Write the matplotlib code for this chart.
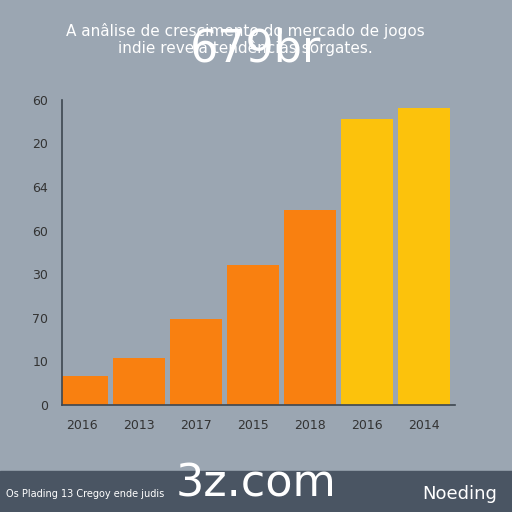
import matplotlib
matplotlib.use("Agg")
import matplotlib.pyplot as plt
import numpy as np

years = ["2016", "2013", "2017", "2015", "2018", "2016", "2014"]
values = [0.67, 1.07, 1.98, 3.21, 4.47, 6.56, 6.81]
bar_colors = ["#f98010"] * 5 + ["#fcc20c"] * 2
tick_labels = ["0", "10", "70", "30", "60", "64", "20", "60"]

BG = "#9ba6b2"

fig = plt.figure(figsize=(5.12, 5.12), dpi=100, facecolor=BG)
ax = fig.add_axes([0.121, 0.209, 0.768, 0.596], facecolor=BG)

x = np.arange(len(years))
ax.bar(x, values, width=0.92, color=bar_colors)
ax.set_xlim(-0.35, 6.55)
ax.set_ylim(0, 7)
ax.set_yticks(range(8))
ax.set_yticklabels(tick_labels)
ax.set_xticks(x)
ax.set_xticklabels(years)
ax.tick_params(colors="#333333", labelsize=9, length=0, pad=10)
for side in ["top", "right"]:
    ax.spines[side].set_visible(False)
for side in ["left", "bottom"]:
    ax.spines[side].set_color("#3d4650")
    ax.spines[side].set_linewidth(1.2)

# title (the watermark sits on top of it, as in the reference)
fig.text(0.48, 0.955, "A anâlise de crescimento do mercado de jogos\nindie revela tendências sorgates.",
         ha="center", va="top", fontsize=11, color="white", linespacing=1.1)
fig.text(0.50, 0.905, "679br", ha="center", va="center", fontsize=32, color="white")

# bottom band
fig.patches.append(plt.Rectangle((0, 0), 1, 0.08, transform=fig.transFigure,
                                 color="#4a5563", zorder=0))
fig.text(0.012, 0.035, "Os Plading 13 Cregoy ende judis", fontsize=7, color="white", va="center")
fig.text(0.97, 0.035, "Noeding", fontsize=13, color="white", va="center", ha="right")
fig.text(0.50, 0.055, "3z.com", fontsize=32, color="white", ha="center", va="center")

fig.savefig("out.png", dpi=100, facecolor=BG)
